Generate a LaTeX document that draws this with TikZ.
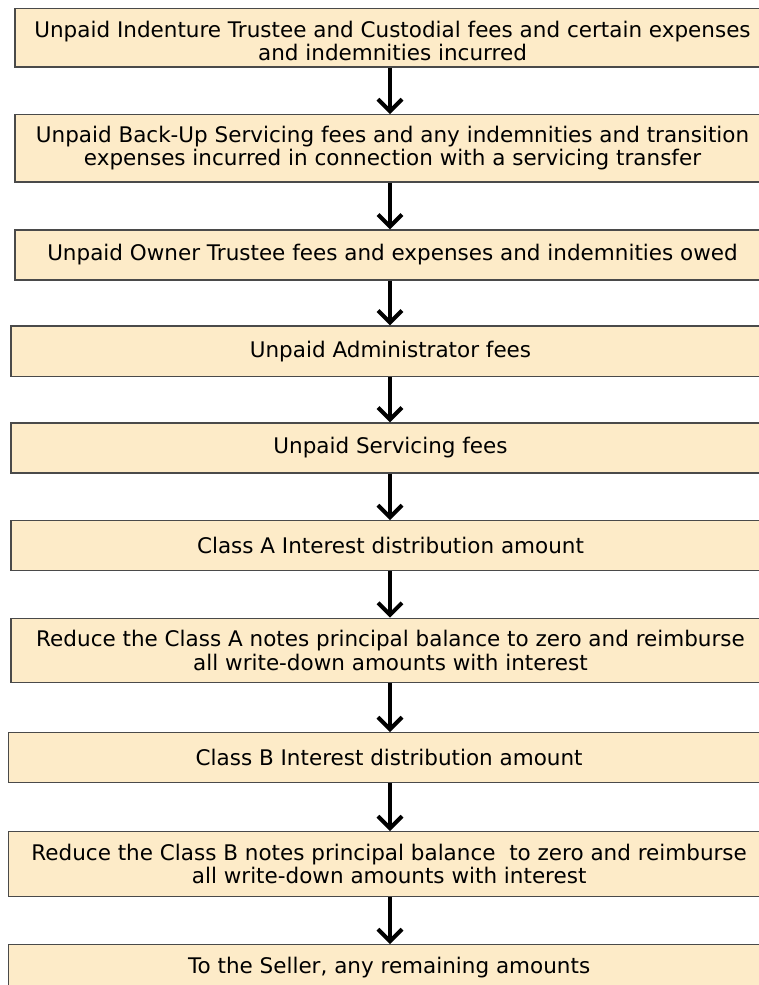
\documentclass[tikz,border=0pt]{standalone}
\usepackage{fontspec}
\setmainfont{DejaVu Sans}
\usetikzlibrary{arrows.meta}
\definecolor{boxfill}{HTML}{FDEBC8}
\definecolor{boxline}{HTML}{4A4A4A}
\begin{document}
\begin{tikzpicture}[x=1pt,y=-1pt,
  stepbox/.style={draw=boxline, fill=boxfill, line width=1.3pt, inner sep=0pt,
    align=center, font=\fontsize{21.5}{23.3}\selectfont},
  flow/.style={line width=4pt, -{Straight Barb[length=12pt,width=24pt,line width=4pt]}}]
\useasboundingbox (0,0) rectangle (759,985);
\clip (0,0) rectangle (759,985);
\coordinate (ax) at (390,0);
\node[stepbox, minimum width=755pt, minimum height=58.7pt] (b1) at (392.5,37.65)
  {\rule{0pt}{23pt}Unpaid Indenture Trustee and Custodial fees and certain expenses\\and indemnities incurred};
\node[stepbox, minimum width=755pt, minimum height=67.3pt] (b2) at (392.5,148.35)
  {Unpaid Back-Up Servicing fees and any indemnities and transition\\expenses incurred in connection with a servicing transfer};
\node[stepbox, minimum width=755pt, minimum height=50pt] (b3) at (392.5,255)
  {Unpaid Owner Trustee fees and expenses and indemnities owed};
\node[stepbox, minimum width=759pt, minimum height=50.7pt] (b4) at (390.5,351.35)
  {Unpaid Administrator fees};
\node[stepbox, minimum width=759pt, minimum height=50pt] (b5) at (390.5,448)
  {Unpaid Servicing fees};
\node[stepbox, minimum width=759pt, minimum height=50pt] (b6) at (390.5,545.7)
  {Class A Interest distribution amount};
\node[stepbox, minimum width=759pt, minimum height=64.4pt] (b7) at (390.5,650.5)
  {Reduce the Class A notes principal balance to zero and reimburse\\all write-down amounts with interest};
\node[stepbox, minimum width=761.7pt, minimum height=50pt] (b8) at (389.15,757.7)
  {Class B Interest distribution amount};
\node[stepbox, minimum width=761.7pt, minimum height=65pt] (b9) at (389.15,864.2)
  {Reduce the Class B notes principal balance\ \ to zero and reimburse\\all write-down amounts with interest};
\node[stepbox, minimum width=761.7pt, minimum height=45pt] (b10) at (389.15,967.2)
  {To the Seller, any remaining amounts};
\foreach \a/\b in {b1/b2,b2/b3,b3/b4,b4/b5,b5/b6,b6/b7,b7/b8,b8/b9,b9/b10}
  \draw[flow] (\a.south -| ax) -- (\b.north -| ax);
\end{tikzpicture}
\end{document}
